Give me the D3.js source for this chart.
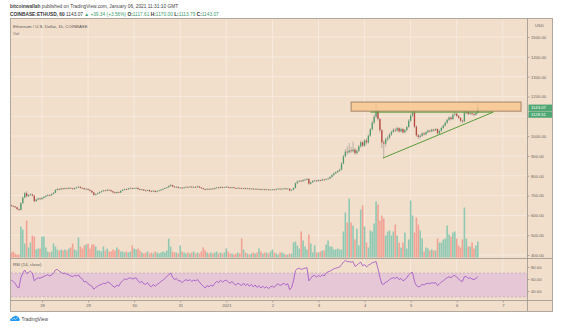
<!DOCTYPE html>
<html><head><meta charset="utf-8">
<script src="https://cdn.jsdelivr.net/npm/d3@7"></script>
<style>
html,body{margin:0;padding:0;background:#fff;}
svg{display:block;font-family:"Liberation Sans",Arial,sans-serif;}
</style></head>
<body><svg id="c" width="563" height="329"></svg>
<script>
// ---------------- DATA ----------------
const startTime = Date.UTC(2020, 11, 27, 8); // first hourly bar (UTC)
const firstOpen = 652;
const close = [
648,645,641,632,628,662,690,712,697,703,706,700,672,680,686,682,
688,694,699,703,701,708,714,728,733,731,736,733,737,735,739,736,733,738,741,744,739,737,732,734,
729,724,716,704,708,712,718,722,726,724,729,727,722,716,713,718,715,724,729,733,731,736,738,735,
737,739,733,729,731,726,724,728,722,720,724,719,723,726,730,734,738,742,748,753,746,742,744,739,
740,737,741,744,742,745,741,744,742,746,741,737,733,730,734,731,735,733,738,741,739,743,740,742,
744,741,739,742,738,736,739,737,735,738,734,736,733,735,732,734,731,733,730,732,729,731,728,730,
731,729,733,735,732,734,736,733,735,726,729,738,762,771,775,773,778,780,784,760,767,774,776,773,
778,776,781,779,783,786,794,803,812,818,824,830,862,898,922,918,928,924,932,914,926,948,969,952,
978,968,1002,1034,1068,1098,1124,1086,1030,968,962,984,992,1008,1021,1032,1028,1040,1024,1036,1019,1030,1046,1078,
1104,1119,1048,1004,996,1002,1014,1009,1020,1028,1024,1033,1029,1036,1014,1026,1041,1053,1067,1082,1094,1086,1108,1113,
1102,1092,1078,1074,1118,1121,1112,1116,1112,1108,1117.61,1143.07];
const high = [
655,651,648,643,635,666,695,718,722,708,711,710,702,684,690,689,
692,697,703,707,706,711,718,732,738,737,740,739,741,740,743,741,739,741,745,749,747,742,740,737,
736,732,726,718,711,715,721,725,729,729,732,731,729,724,719,721,720,727,732,736,735,739,742,740,
740,742,741,735,734,733,729,731,730,725,727,726,726,729,733,737,741,745,752,758,755,749,747,746,
743,742,744,747,746,748,747,747,746,750,748,743,739,735,737,736,738,737,741,744,743,747,745,745,
748,746,743,745,744,740,742,741,739,741,740,739,738,738,737,737,736,736,735,735,734,734,733,733,
734,733,736,738,737,737,739,738,738,737,732,742,766,776,779,778,782,785,789,786,771,778,780,779,
782,781,785,784,787,790,798,808,817,823,829,836,868,905,935,948,965,945,972,940,934,956,978,975,
985,990,1010,1041,1078,1110,1168,1135,1092,1036,980,992,1003,1016,1028,1040,1042,1048,1045,1043,1040,1036,1052,1086,
1115,1128,1126,1055,1012,1010,1020,1019,1026,1034,1032,1038,1036,1042,1039,1032,1047,1059,1073,1088,1101,1099,1115,1125,
1118,1107,1096,1083,1124,1128,1125,1121,1120,1116,1121,1170];
const low = [
644,641,637,628,622,625,658,686,690,692,699,696,665,668,676,678,
679,685,691,696,697,699,705,712,725,727,728,730,731,732,733,733,730,731,736,739,736,734,729,729,
726,720,711,698,700,705,709,715,719,721,722,724,719,712,709,711,712,713,722,727,728,729,734,732,
733,734,730,726,726,723,721,722,719,717,718,716,717,721,724,728,732,736,740,745,743,739,739,736,
736,734,735,739,739,740,738,739,739,740,738,734,730,726,728,728,729,730,731,736,736,737,737,738,
740,738,736,737,735,733,734,734,732,733,731,732,730,731,729,730,728,729,727,728,726,727,725,726,
727,726,727,731,729,730,732,730,731,721,723,727,736,759,767,769,770,775,777,754,756,764,771,769,
770,772,774,775,777,780,783,791,800,808,814,820,827,858,893,906,912,915,918,905,908,920,942,944,
946,958,962,996,1028,1060,1090,1078,1018,940,889,948,975,985,1001,1015,1020,1022,1017,1019,1012,1014,1025,1041,
1070,1096,1040,996,985,988,996,1002,1004,1015,1018,1020,1023,1025,1008,1010,1022,1036,1048,1062,1076,1079,1082,1100,
1095,1085,1070,1066,1071,1110,1105,1106,1104,1100,1104,1113.79];
const volume = [ // thousands of ETH per hour
5,6,4,3,3,31,28,14,37,10,15,22,21,8,9,9,
21,21,10,6,5,6,14,11,8,7,8,7,8,7,9,10,14,8,7,20,11,9,12,13,
14,9,13,13,11,7,7,6,11,7,9,6,6,8,7,10,8,6,6,5,6,5,6,12,
9,8,9,7,5,4,5,6,4,5,4,6,5,4,5,6,5,7,19,11,6,5,5,4,
12,6,5,4,5,4,5,6,4,5,4,6,10,7,5,4,5,4,5,6,4,5,4,5,
9,6,4,4,3,4,5,4,19,8,5,4,3,4,5,4,5,9,6,4,5,5,4,6,
8,5,4,3,5,5,4,3,3,4,4,15,16,12,9,26,17,11,8,23,14,5,12,5,
5,6,7,7,13,17,11,11,8,8,9,8,8,26,45,35,59,35,32,18,29,12,48,52,
31,15,10,27,26,34,56,53,37,42,39,22,26,27,22,26,33,22,15,10,15,25,9,18,
57,42,25,40,33,27,19,6,10,9,7,8,7,7,19,15,15,18,19,32,23,21,25,26,
19,12,10,18,50,19,11,11,15,9,12,16];
const rsi = [
58,56,53,47,45,62,70,75,69,71,73,70,57,60,62,61,
63,64,66,67,65,67,69,75,76,73,71,69,70,68,67,65,64,66,65,67,62,60,55,56,
52,50,48,43,46,48,50,51,53,52,55,54,51,48,46,50,48,54,57,60,59,61,62,60,
61,62,57,54,56,52,51,54,49,47,51,48,51,53,56,58,61,64,67,70,63,59,61,57,
57,54,57,59,57,59,56,58,57,59,55,51,48,45,49,47,50,48,53,56,54,58,55,57,
58,55,53,56,52,50,53,51,49,53,49,52,48,51,47,50,46,49,45,48,45,47,44,47,
48,46,50,52,49,51,53,50,52,42,46,57,74,77,78,76,77,78,79,57,61,65,66,63,
66,64,67,65,70,72,73,75,77,78,79,80,84,88,91,89,89,88,89,81,83,86,88,82,
84,80,83,85,87,88,89,77,63,52,51,55,56,59,61,62,61,63,59,61,57,59,62,67,
70,71,56,49,47,48,51,50,52,53,52,54,53,54,49,52,55,57,60,62,64,62,65,66,
63,60,57,56,64,64,61,62,60,59,61,64];
const dayTicks = [Date.UTC(2020,11,28),Date.UTC(2020,11,29),Date.UTC(2020,11,30),Date.UTC(2020,11,31),
  Date.UTC(2021,0,1),Date.UTC(2021,0,2),Date.UTC(2021,0,3),Date.UTC(2021,0,4),Date.UTC(2021,0,5),Date.UTC(2021,0,6),Date.UTC(2021,0,7)];
const dayLabels = ["28","29","30","31","2021","2","3","4","5","6","7"];
const priceTicks = [400,500,600,700,800,900,1000,1100,1200,1300,1400,1500];
const rsiTicks = [40,60,80];
const rsiBand = [30,70];
const zone = {t0: Date.UTC(2021,0,3,17), t1: Date.UTC(2021,0,7,9,30), p0: 1126, p1: 1172};
const resistance = {t0: Date.UTC(2021,0,4,3), t1: Date.UTC(2021,0,6,19), p: 1121};
const support = {t0: Date.UTC(2021,0,4,9,30), p0: 889, t1: Date.UTC(2021,0,6,19), p1: 1121};
const priceLabels = [1143.07, 1128.51];
const headerStats = {last:"1143.07", chg:"+39.34 (+3.56%)", o:"1117.61", h:"1170.00", l:"1113.79", c:"1143.07"};

// ---------------- LAYOUT ----------------
const svg = d3.select("#c");
const PL = 11, PR = 527, PT = 19, PB = 258, RT = 258, RB = 300, AB = 311, FR = 552;
const BG = "#f1dfcc", GREEN = "#4e9c6c", RED = "#bb463c", TXT = "#6b6560";

const x = d3.scaleUtc().domain([Date.UTC(2020,11,27,7,52), Date.UTC(2021,0,7,12,36)]).range([PL, PR]);
const y = d3.scaleLinear().domain([385, 1591]).range([PB, PT]);
const yVol = d3.scaleLinear().domain([0, 100]).range([PB - 0.5, PB - 100.5]);
const yR = d3.scaleLinear().domain([25, 95]).range([RB, RT]);

const bars = close.map((c, i) => ({
  t: startTime + i * 3600e3,
  o: i === 0 ? firstOpen : close[i - 1],
  h: high[i], l: low[i], c, v: volume[i], r: rsi[i]
}));

// frame
svg.append("rect").attr("x", 10.5).attr("y", 18.5).attr("width", FR - 10).attr("height", AB - 18)
  .attr("fill", BG).attr("stroke", "#b3a89c").attr("stroke-width", 1);

const defs = svg.append("defs");
defs.append("clipPath").attr("id", "cm").append("rect").attr("x", PL).attr("y", PT).attr("width", PR - PL).attr("height", PB - PT);
defs.append("clipPath").attr("id", "cr").append("rect").attr("x", PL).attr("y", RT).attr("width", PR - PL).attr("height", RB - RT);

// grid
const grid = svg.append("g").attr("stroke", "#f7ece1").attr("stroke-width", 0.8);
dayTicks.forEach(t => grid.append("line").attr("x1", x(t)).attr("x2", x(t)).attr("y1", PT).attr("y2", RB));
priceTicks.forEach(p => grid.append("line").attr("x1", PL).attr("x2", PR).attr("y1", y(p)).attr("y2", y(p)));

// volume
const main = svg.append("g").attr("clip-path", "url(#cm)");
main.append("g").selectAll("rect").data(bars).join("rect")
  .attr("x", d => x(d.t) - 0.8).attr("width", 1.6)
  .attr("y", d => yVol(d.v)).attr("height", d => yVol(0) - yVol(d.v))
  .attr("fill", d => d.c >= d.o ? "#8fc9b3" : "#f2a294");

// candles
main.append("g").selectAll("line").data(bars).join("line")
  .attr("x1", d => x(d.t)).attr("x2", d => x(d.t))
  .attr("y1", d => y(d.h)).attr("y2", d => y(d.l))
  .attr("stroke", "#8e8882").attr("stroke-width", 0.55);
main.append("g").selectAll("rect").data(bars).join("rect")
  .attr("x", d => x(d.t) - 0.65).attr("width", 1.3)
  .attr("y", d => Math.min(y(d.o), y(d.c)))
  .attr("height", d => Math.max(0.7, Math.abs(y(d.o) - y(d.c))))
  .attr("fill", d => d.c >= d.o ? GREEN : RED);

// drawings
main.append("rect").attr("x", x(zone.t0)).attr("width", x(zone.t1) - x(zone.t0))
  .attr("y", y(zone.p1)).attr("height", y(zone.p0) - y(zone.p1))
  .attr("fill", "#f8c58c").attr("fill-opacity", 0.78).attr("stroke", "#9d7d5e").attr("stroke-width", 0.9);
main.append("line").attr("x1", x(resistance.t0)).attr("x2", x(resistance.t1))
  .attr("y1", y(resistance.p)).attr("y2", y(resistance.p)).attr("stroke", "#5b9b3a").attr("stroke-width", 1);
main.append("line").attr("x1", x(support.t0)).attr("x2", x(support.t1))
  .attr("y1", y(support.p0)).attr("y2", y(support.p1)).attr("stroke", "#5b9b3a").attr("stroke-width", 1);

// RSI pane
const rp = svg.append("g").attr("clip-path", "url(#cr)");
rp.append("rect").attr("x", PL).attr("width", PR - PL).attr("y", yR(rsiBand[1])).attr("height", yR(rsiBand[0]) - yR(rsiBand[1]))
  .attr("fill", "#e5c7d5");
rsiBand.forEach(v => rp.append("line").attr("x1", PL).attr("x2", PR).attr("y1", yR(v)).attr("y2", yR(v))
  .attr("stroke", "#b8a3ad").attr("stroke-width", 0.6).attr("stroke-dasharray", "2,2"));
rp.append("path").datum(bars).attr("fill", "none").attr("stroke", "#a04fc6").attr("stroke-width", 0.8)
  .attr("d", d3.line().x(d => x(d.t)).y(d => yR(d.r)));

// pane dividers
svg.append("line").attr("x1", 10).attr("x2", FR).attr("y1", PB + 0.5).attr("y2", PB + 0.5).attr("stroke", "#9c948c").attr("stroke-width", 0.8);
svg.append("line").attr("x1", 10).attr("x2", FR).attr("y1", RB + 0.5).attr("y2", RB + 0.5).attr("stroke", "#9c948c").attr("stroke-width", 0.8);
svg.append("line").attr("x1", PR + 0.5).attr("x2", PR + 0.5).attr("y1", 18.5).attr("y2", AB).attr("stroke", "#9c948c").attr("stroke-width", 0.8);

// axes
function styleAxis(g) {
  g.select(".domain").remove();
  g.selectAll(".tick line").attr("stroke", "#8a827a").attr("stroke-width", 0.6);
  g.selectAll(".tick text").attr("fill", TXT).attr("font-size", "4.2px").attr("font-family", "Liberation Sans, Arial, sans-serif");
}
// label positions of the last-price boxes (TradingView stacks overlapping ones)
const labelY = [];
priceLabels.forEach((v, i) => labelY.push(i === 0 ? y(v) : Math.max(y(v), labelY[i - 1] + 6.8)));
const covered = p => labelY.some(ly => Math.abs(y(p) - ly) < 5);

svg.append("g").attr("transform", `translate(${PR + 0.5},0)`)
  .call(d3.axisRight(y).tickValues(priceTicks).tickFormat(p => covered(p) ? "" : d3.format(".2f")(p)).tickSize(2).tickPadding(1.5))
  .call(styleAxis);
svg.append("g").attr("transform", `translate(${PR + 0.5},0)`)
  .call(d3.axisRight(yR).tickValues(rsiTicks).tickFormat(d3.format(".2f")).tickSize(2).tickPadding(1.5))
  .call(styleAxis);
svg.append("g").attr("transform", `translate(0,${RB + 0.5})`)
  .call(d3.axisBottom(x).tickValues(dayTicks).tickFormat((d, i) => dayLabels[i]).tickSize(2).tickPadding(2))
  .call(styleAxis);

// last price labels
priceLabels.forEach((v, i) => {
  const cy = labelY[i];
  svg.append("rect").attr("x", PR + 1.5).attr("y", cy - 3.2).attr("width", FR - PR - 1.5).attr("height", 6.4).attr("fill", "#4fa873");
  svg.append("text").attr("x", PR + 4).attr("y", cy + 1.5).attr("fill", "#fff").attr("font-size", "4.2px").text(d3.format(".2f")(v));
});

// pane texts
svg.append("text").attr("x", (PR + FR) / 2).attr("y", 27).attr("text-anchor", "middle").attr("fill", TXT).attr("font-size", "4.2px").text("USD");
svg.append("text").attr("x", 13).attr("y", 27.5).attr("fill", "#5a5550").attr("font-size", "4.3px").text("Ethereum / U.S. Dollar, 1h, COINBASE");
svg.append("text").attr("x", 13).attr("y", 34.5).attr("fill", "#7a746e").attr("font-size", "4.3px").text("Vol");
svg.append("text").attr("x", 13).attr("y", 266).attr("fill", "#5a5550").attr("font-size", "4.3px").text("RSI (14, close)");

// header
const h1 = svg.append("text").attr("x", 10).attr("y", 8).attr("font-size", "4.8px").attr("fill", "#444");
h1.append("tspan").attr("font-weight", "bold").text("bitcoinwallah");
h1.append("tspan").text(" published on TradingView.com, January 06, 2021 11:31:10 GMT");
const G2 = "#3e9a6a";
const h2 = svg.append("text").attr("x", 10).attr("y", 16).attr("font-size", "4.8px").attr("fill", "#333");
h2.append("tspan").attr("font-weight", "bold").text("COINBASE:ETHUSD, 60 ");
h2.append("tspan").text(headerStats.last + " ");
h2.append("tspan").attr("fill", G2).text("▲ " + headerStats.chg + " ");
[["O:", headerStats.o], ["H:", headerStats.h], ["L:", headerStats.l], ["C:", headerStats.c]].forEach(([k, v]) => {
  h2.append("tspan").attr("font-weight", "bold").text(k);
  h2.append("tspan").attr("fill", G2).text(v + " ");
});

// TradingView logo
const logo = svg.append("g").attr("transform", "translate(10,315)");
logo.append("path").attr("d", "M1,6 Q0,6 0,5 Q0,3.6 1.6,3.6 Q2,1.4 4.2,1.5 Q5.8,0.2 7.4,1.6 Q9,1.8 9,3.6 Q10,4 9.8,5 Q9.6,6 8.6,6 Z").attr("fill", "#2196f3");
logo.append("path").attr("d", "M2.2,5 L4,3.2 L5.4,4.4 L7.6,2.4").attr("fill", "none").attr("stroke", "#fff").attr("stroke-width", 0.6);
svg.append("text").attr("x", 21.5).attr("y", 321).attr("font-size", "4.8px").attr("fill", "#444").text("TradingView");
</script>
</body></html>
